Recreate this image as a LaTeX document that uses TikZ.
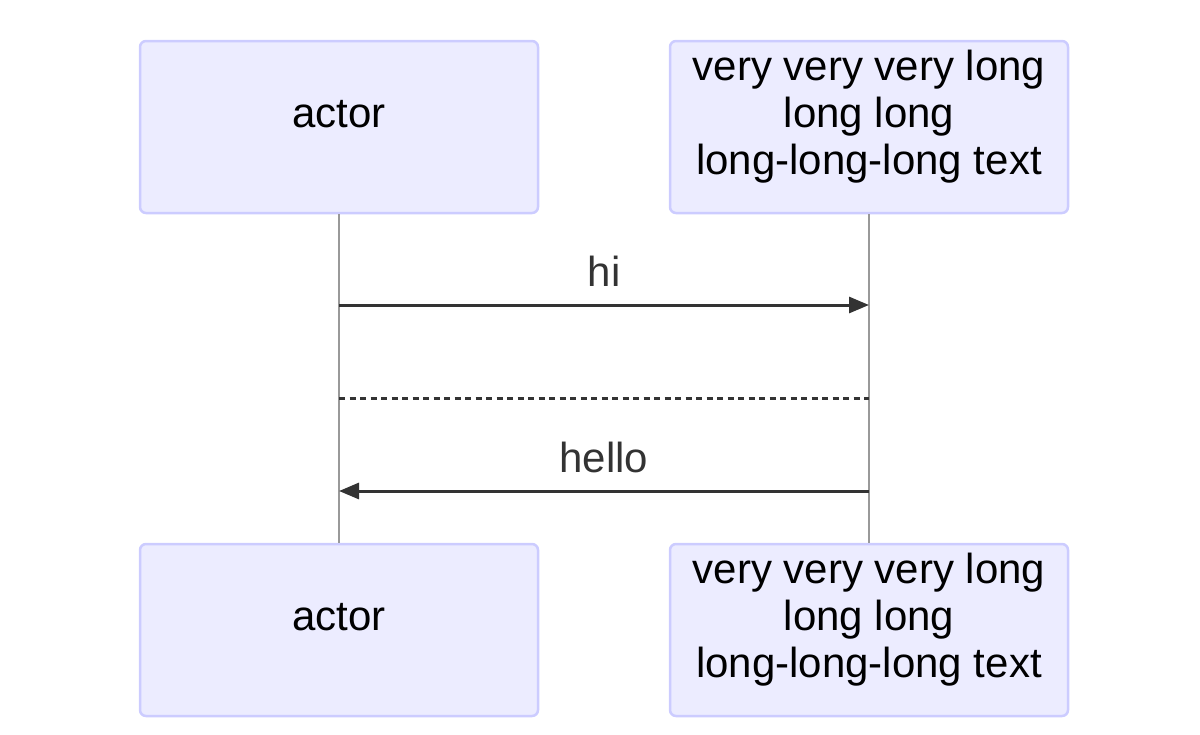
\documentclass[tikz,border=0pt]{standalone}
\usepackage{fontspec}
\setmainfont{Liberation Sans}
\usetikzlibrary{arrows.meta}
\definecolor{actorfill}{HTML}{ECECFF}
\definecolor{actorline}{HTML}{CCCCFF}
\definecolor{msgline}{HTML}{333333}
\definecolor{lifegray}{HTML}{999999}
\tikzset{
  actorbox/.style={draw=actorline, fill=actorfill, line width=2.5pt, rounded corners=6pt,
    minimum width=398pt, minimum height=172pt, inner sep=0pt},
  actortext/.style={align=center, inner sep=0pt, font=\fontsize{42}{47}\selectfont},
  lifeline/.style={draw=lifegray, line width=1.2pt},
  msg/.style={draw=msgline, line width=3pt, -{Triangle[length=20pt,width=16pt]}},
  msgdash/.style={draw=msgline, line width=3pt, dash pattern=on 6pt off 4.5pt},
  msglabel/.style={text=msgline, font=\fontsize{42}{47}\selectfont, anchor=base}
}
\begin{document}
\begin{tikzpicture}[x=1pt, y=-1pt]
\useasboundingbox (0,0) rectangle (1200,734);
\node[actorbox] (actorTop) at (339,127) {};
\node[actorbox] (longTop) at (869,127) {};
\node[actorbox] (actorBot) at (339,630) {};
\node[actorbox] (longBot) at (869,630) {};
\node[actortext, yshift=13pt] (actorTopText) at (actorTop.center) {actor};
\node[actortext, yshift=10pt] (longTopText) at (longTop.center) {very very very long\\long long\\long-long-long text};
\node[actortext, yshift=13pt] (actorBotText) at (actorBot.center) {actor};
\node[actortext, yshift=10pt] (longBotText) at (longBot.center) {very very very long\\long long\\long-long-long text};
\draw[lifeline] (actorTop) -- (actorBot);
\draw[lifeline] (longTop) -- (longBot);
\coordinate (hiY) at (0,305);
\coordinate (sepY) at (0,398);
\coordinate (helloY) at (0,491);
\draw[msg] (actorTop |- hiY) -- node[msglabel, yshift=19pt] (hiText) {hi} (longTop |- hiY);
\draw[msgdash] (actorTop |- sepY) -- (longTop |- sepY);
\draw[msg] (longTop |- helloY) -- node[msglabel, yshift=19pt] (helloText) {hello} (actorTop |- helloY);
\end{tikzpicture}
\end{document}
